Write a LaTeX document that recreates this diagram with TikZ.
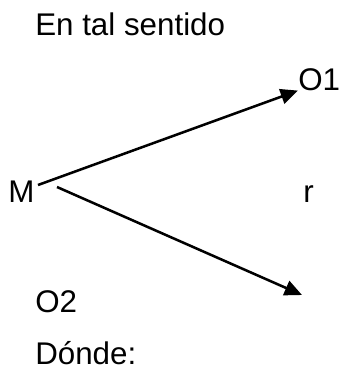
\documentclass[tikz,border=0pt]{standalone}
\usepackage{fontspec}
\setmainfont{Liberation Sans}
\usetikzlibrary{arrows.meta, positioning}

\begin{document}
\begin{tikzpicture}[
        x=0.75pt, y=-0.75pt,
        lbl/.style={anchor=base west, inner sep=0pt, font=\fontsize{23.5}{28}\selectfont},
        line/.style={line width=1.9pt},
        arr/.style={line, -{Triangle[length=13pt, width=11.5pt]}}
    ]
        \useasboundingbox (0,0) rectangle (344,369);
        % -- texts --
        \node[lbl] (title) at (35, 35)   {En tal sentido};
        \node[lbl] (M)     at (8, 202)   {M};
        \node[lbl] (O1)    at (298, 90)  {O1};
        \node[lbl] (r)     at (303, 202) {r};
        \node[lbl] (O2)    at (35, 312)  {O2};
        \node[lbl] (donde) at (35, 364)  {Dónde:};

        % arrow ends
        \coordinate (mup)  at (38, 185);
        \coordinate (mdn)  at (57, 187);
        \coordinate (tip2) at (302, 295);

        % arrows from M
        \draw[arr] (mup) -- (O1.south west);
        \draw[arr] (mdn) -- (tip2);
    \end{tikzpicture}
\end{document}
